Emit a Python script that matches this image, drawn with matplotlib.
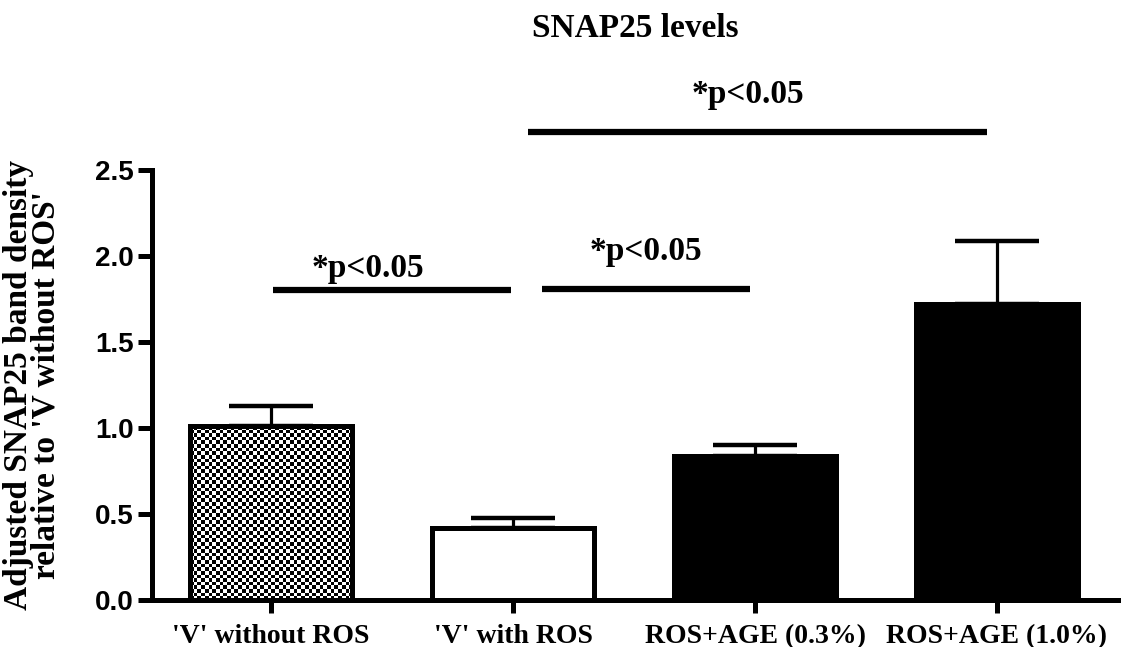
import numpy as np
import matplotlib
matplotlib.use("Agg")
import matplotlib.pyplot as plt

# SNAP25 band density, relative to 'V' without ROS
groups = ["'V' without ROS", "'V' with ROS", "ROS+AGE (0.3%)", "ROS+AGE (1.0%)"]
means = [1.01, 0.42, 0.835, 1.72]
sem = [0.12, 0.055, 0.065, 0.37]
yticks = [0.0, 0.5, 1.0, 1.5, 2.0, 2.5]
ytick_labels = ["0.0", "0.5", "1.0", "1.5", "2.0", "2.5"]

# significance bars: compared groups and the level they are drawn at
sig_pairs = [(0, 1), (1, 2), (1, 3)]
sig_levels = [1.80, 1.81, 2.72]
sig_text = "*p<0.05"

serif = "Liberation Serif"
sans = "Liberation Sans"

fig = plt.figure(figsize=(11.22, 6.47), dpi=100)
ax = fig.add_axes([0.1355, 0.0726, 0.8609, 0.6646])

x = np.arange(len(groups))
w = 0.67
lw = 3.6

faces = ["none", "white", "black", "black"]
bars = ax.bar(x, means, width=w, color=faces, edgecolor="black", linewidth=lw, zorder=3)

# checkered fill for the first bar
b = bars[0]
nx, ny = 44, 48
board = (np.add.outer(np.arange(ny), np.arange(nx)) % 2).astype(float)
ax.imshow(board, cmap="gray_r", interpolation="nearest", aspect="auto",
          extent=(b.get_x(), b.get_x() + b.get_width(), 0, b.get_height()), zorder=2)

# upper error bars only
ax.errorbar(x, means, yerr=[np.zeros(len(sem)), sem], fmt="none", ecolor="black",
            elinewidth=2.3, capsize=30, capthick=3.2, zorder=2.5)

# line ends are trimmed a little from the bar centres, text nudged off-centre
trim = [(0.01, 0.01), (0.12, 0.02), (0.06, 0.04)]
text_shift = [-0.1, 0.0, -0.04]
text_gap = [0.08, 0.165, 0.17]
for (i, j), yl, (t0, t1), dx, gap in zip(sig_pairs, sig_levels, trim, text_shift, text_gap):
    x0, x1 = x[i] + t0, x[j] - t1
    ax.plot([x0, x1], [yl, yl], color="black", lw=4.5, clip_on=False, solid_capstyle="butt")
    ax.text((x0 + x1) / 2 + dx, yl + gap, sig_text, ha="center", va="baseline",
            fontfamily=serif, fontweight="bold", fontsize=24, clip_on=False)

ax.set_xlim(-0.492, 3.5)
ax.set_ylim(0, 2.5)

for s in ["top", "right"]:
    ax.spines[s].set_visible(False)
for s in ["left", "bottom"]:
    ax.spines[s].set_linewidth(lw)
    ax.spines[s].set_capstyle("projecting")

ax.set_xticks(x)
ax.set_xticklabels(groups, fontfamily=serif, fontweight="bold", fontsize=20)
ax.set_yticks(yticks)
ax.set_yticklabels(ytick_labels, fontfamily=sans, fontweight="bold", fontsize=20)
ax.tick_params(axis="x", length=9, width=3.6, pad=8)
ax.tick_params(axis="y", length=10, width=3.6, pad=3)

ax.set_title("SNAP25 levels", fontfamily=serif, fontweight="bold", fontsize=24, pad=96)
ax.set_ylabel("Adjusted SNAP25 band density\nrelative to 'V without ROS'", fontfamily=serif,
              fontweight="bold", fontsize=24, linespacing=0.85)
ax.yaxis.set_label_coords(-0.094, 0.5)

fig.savefig("out.png", dpi=100)
